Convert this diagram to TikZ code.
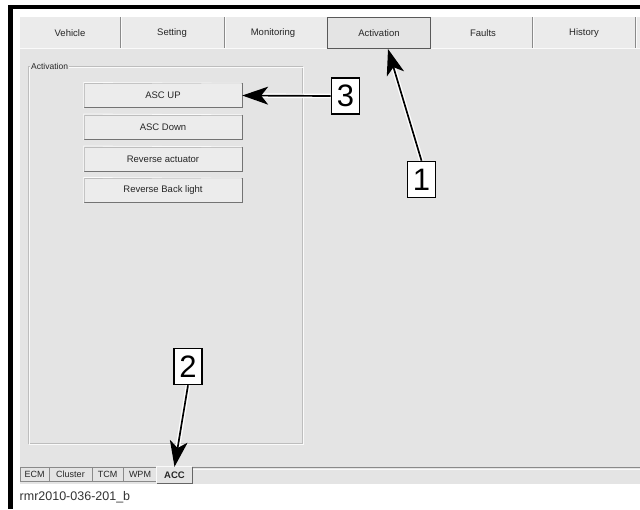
\documentclass[tikz,border=0pt]{standalone}
\usepackage{fontspec}
\setmainfont{Liberation Sans}
\usetikzlibrary{arrows.meta}
\definecolor{scr}{HTML}{E4E4E4}
\definecolor{tabrow}{HTML}{EBEBEB}
\definecolor{btn}{HTML}{ECECEC}
\definecolor{dk}{HTML}{8A8A8A}
\definecolor{lt}{HTML}{FAFAFA}
\definecolor{grp}{HTML}{BDBDBD}
\pgfdeclarelayer{front}
\pgfsetlayers{main,front}
\begin{document}
\begin{tikzpicture}[x=1pt,y=-1pt,
  tabtxt/.style={font=\fontsize{9.5}{10}\selectfont, text=black!85, inner sep=0pt, minimum height=31pt},
  btnbox/.style={draw=grp, fill=btn, minimum width=158pt, minimum height=24pt, inner sep=0pt, font=\fontsize{9.5}{10}\selectfont, text=black!85},
  callout/.style={draw=black, line width=1.6pt, fill=white, minimum width=28pt, minimum height=36pt, inner sep=0pt, font=\fontsize{31}{31}\selectfont},
  leader/.style={line width=1.7pt, -{Stealth[length=26pt,width=18pt,inset=7pt]}, preaction={draw=white, line width=4.5pt, -{Stealth[length=26pt,width=18pt,inset=7pt]}}},
  btab/.style={draw=dk, fill=scr, minimum height=14pt, inner sep=0pt, font=\fontsize{9}{9}\selectfont, text=black!85}
]
\useasboundingbox (0,0) rectangle (640,509);
\fill[white] (0,0) rectangle (640,509);
% black frame
\fill[black] (8,4.5) rectangle (640,9);
\fill[black] (8,4.5) rectangle (12.7,509);
% screen
\fill[scr] (20,17) rectangle (640,484);
\fill[tabrow] (20,17) rectangle (640,48);
\draw[lt] (20,48.5) -- (640,48.5);
% top tabs
\foreach \x in {120,224,532,635}{
  \draw[dk, line width=1pt] (\x,17) -- (\x,48);
  \draw[lt, line width=0.8pt] (\x+1.2,17) -- (\x+1.2,48);
}
\node[tabtxt] (tabVeh) at (70,33) {Vehicle};
\node[tabtxt] (tabSet) at (172,33) {Setting};
\node[tabtxt] (tabMon) at (273,33) {Monitoring};
\node[tabtxt, draw=black!65, line width=1.3pt, fill=scr, minimum width=103pt] (tabAct) at (379,33) {Activation};
\node[tabtxt] (tabFlt) at (483,33) {Faults};
\node[tabtxt] (tabHis) at (584,33) {History};
% group box
\draw[grp, line width=0.8pt] (28,66) rectangle (302,443);
\draw[lt, line width=0.6pt] (29,67) rectangle (303,444);
\node[font=\fontsize{8.5}{9}\selectfont, fill=scr, inner sep=1pt, anchor=west, text=black!85] (grpLbl) at (30,66) {Activation};
% buttons
\node[btnbox] (b1) at (163,95.5) {ASC UP};
\node[btnbox] (b2) at (163,127) {ASC Down};
\node[btnbox] (b3) at (163,159) {Reverse actuator};
\node[btnbox] (b4) at (163,190.5) {Reverse Back light};
\foreach \b in {b1,b2,b3,b4}{
  \draw[black!55, line width=1pt] (\b.south west) -- (\b.south east) -- (\b.north east);
  \draw[lt, line width=0.8pt] ([yshift=-0.8pt]\b.south west) -- ([yshift=0.8pt]\b.north west) -- ([xshift=-0.8pt]\b.north east);
}
% bottom tabs
\draw[dk, line width=1.2pt] (192,467.5) -- (640,467.5);
\draw[lt, line width=0.8pt] (192,469) -- (640,469);
\node[btab, minimum width=29pt] (tECM) at (34.5,474.5) {ECM};
\node[btab, minimum width=43pt] (tClu) at (70.5,474.5) {Cluster};
\node[btab, minimum width=31pt] (tTCM) at (107.5,474.5) {TCM};
\node[btab, minimum width=34pt] (tWPM) at (140,474.5) {WPM};
\node[btab, draw=none, minimum width=35pt, minimum height=16pt, font=\fontsize{9.5}{10}\selectfont\bfseries] (accTab) at (174.5,475) {ACC};
\draw[black!60, line width=1.2pt] (accTab.north east) -- (accTab.south east) -- (accTab.south west);
\draw[lt, line width=0.8pt] (accTab.south west) -- (accTab.north west) -- (accTab.north east);
% caption
\node[anchor=west, font=\fontsize{12.5}{13}\selectfont, text=black!80, inner sep=0pt] (cap) at (19.5,497) {rmr2010-036-201\_b};
% callouts
\begin{pgfonlayer}{front}
\node[callout] (c3) at (345.5,96) {3};
\node[callout] (c1) at (421.5,179.5) {1};
\node[callout] (c2) at (188,366.5) {2};
\end{pgfonlayer}
\coordinate (t1) at (388,49);
\draw[leader] (c3.west) -- (b1.east);
\draw[leader] (c1.north) -- (t1);
\draw[leader] (c2.south) -- (accTab.north);
\end{tikzpicture}
\end{document}
